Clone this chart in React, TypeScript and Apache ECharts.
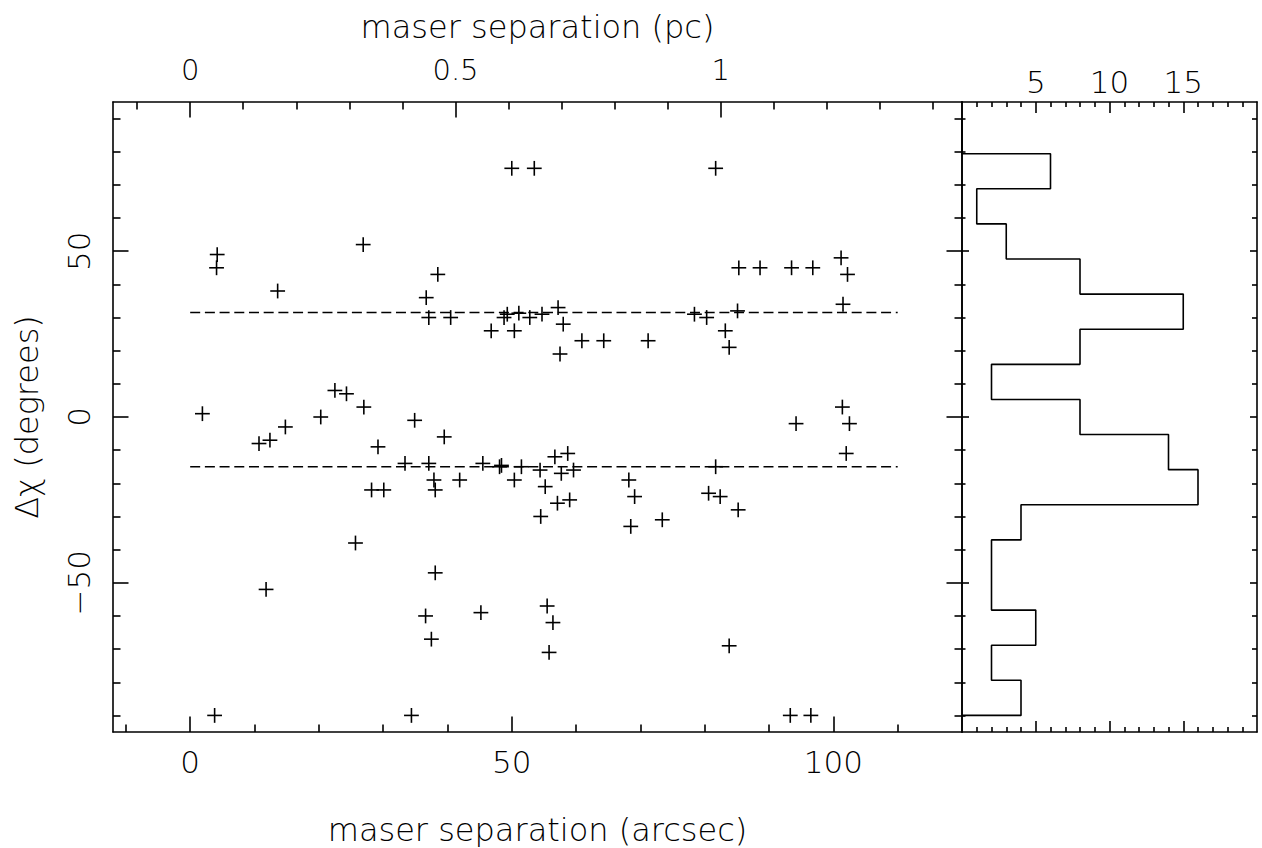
import { useEffect, useRef } from "react";
import * as echarts from "echarts";

// ---- axis ranges ----
const X_MIN = -12;
const X_MAX = 120;
const Y_MIN = -95;
const Y_MAX = 95;
const ARCSEC_PER_PC = 82.5;
const H_MIN = 0;
const H_MAX = 20;

// ---- scatter data: maser separation (arcsec) vs delta chi (degrees) ----
const sepArcsec = [
  50.0, 53.5, 81.7,
  4.2, 4.1, 26.9, 38.5, 13.6, 36.7,
  37.1, 40.5, 46.8, 48.8, 49.3, 50.4, 51.1, 52.8, 54.7,
  57.2, 58.0, 60.9, 64.3, 57.5, 71.2, 78.4, 80.3, 85.1, 83.2, 83.8,
  85.3, 88.6, 93.5, 96.8, 101.2, 102.2, 101.5,
  1.9, 14.8, 20.3, 22.5, 24.3, 27.0, 34.9, 101.4, 94.2, 102.5,
  10.7, 12.4, 39.5, 29.2, 33.4, 37.1, 45.5, 48.1, 48.4, 51.5, 56.7, 58.7, 81.7, 102.0,
  37.9, 38.1, 28.2, 30.1, 41.9, 50.4, 54.4, 57.7, 59.6, 55.2, 57.1, 59.0, 68.2, 69.1, 80.6, 82.4,
  54.5, 68.5, 73.4, 85.2,
  25.7, 38.1, 11.8, 55.5, 36.6, 37.5, 45.2, 56.4, 55.8, 83.8,
  3.8, 34.4, 93.3, 96.5,
];
const deltaChi = [
  75, 75, 75,
  49, 45, 52, 43, 38, 36,
  30, 30, 26, 30, 31, 26, 31.3, 30, 31,
  33, 28, 23, 23, 19, 23, 31, 30, 32, 26, 21,
  45, 45, 45, 45, 48, 43, 34,
  1, -3, 0, 8, 7, 3, -1, 3, -2, -2,
  -8, -7, -6, -9, -14, -14, -14, -15, -14.6, -15, -12, -11, -15, -11,
  -19, -22, -22, -22, -19, -19, -16, -17, -16, -21, -26, -25, -19, -24, -23, -24,
  -30, -33, -31, -28,
  -38, -47, -52, -57, -60, -67, -59, -62, -71, -69,
  -90, -90, -90, -90,
];

// ---- dashed reference lines ----
const refLevels = [31.5, -15];
const refXRange = [0, 110];

// ---- histogram of delta chi (counts per bin, from -90 upward, 17 bins to +90) ----
const histCounts = [4, 2, 5, 2, 2, 4, 16, 14, 8, 2, 8, 15, 8, 3, 1, 6, 0];
const histLow = -90;
const histHigh = 90;

// ---- tick values ----
const xMajor = [0, 50, 100];
const xMinor = [-10, 10, 20, 30, 40, 60, 70, 80, 90, 110];
const pcMajor = [0, 0.5, 1];
const pcMinor = [-0.1, 0.1, 0.2, 0.3, 0.4, 0.6, 0.7, 0.8, 0.9, 1.1, 1.2, 1.3, 1.4];
const yMajor = [-50, 0, 50];
const yMinor = [-90, -80, -70, -60, -40, -30, -20, -10, 10, 20, 30, 40, 60, 70, 80, 90];
const hMajor = [5, 10, 15];
const hMinor = [1, 2, 3, 4, 6, 7, 8, 9, 11, 12, 13, 14, 16, 17, 18, 19];

const FONT = "DejaVu Sans";
const INK = "#000";
const LW = 1.6;

function fmt(v: number): string {
  return v < 0 ? "\u2212" + String(Math.abs(v)) : String(v);
}

function axis(o: any): any {
  const base: any = {
    type: "value",
    scale: false,
    splitLine: { show: false },
    axisLine: { show: o.line !== false, onZero: false, lineStyle: { color: INK, width: LW } },
    axisTick: {
      show: true,
      inside: true,
      length: o.tickLen,
      customValues: o.ticks,
      lineStyle: { color: INK, width: LW },
    },
    axisLabel: o.labels
      ? {
          show: true,
          customValues: o.labels,
          formatter: (v: number) => fmt(v),
          color: INK,
          fontFamily: FONT,
          fontWeight: 200,
          fontSize: o.fontSize || 31,
          margin: o.margin,
          rotate: o.rotate || 0,
        }
      : { show: false },
  };
  const { line, tickLen, ticks, labels, fontSize, margin, rotate, ...rest } = o;
  return { ...base, ...rest };
}

export default function App() {
  const ref = useRef<HTMLDivElement>(null);

  useEffect(() => {
    if (!ref.current) return;
    const chart = echarts.init(ref.current, undefined, { renderer: "svg" });

    const binW = (histHigh - histLow) / histCounts.length;
    const histPts: number[][] = [[0, histLow]];
    histCounts.forEach((c, i) => {
      histPts.push([c, histLow + i * binW]);
      histPts.push([c, histLow + (i + 1) * binW]);
    });
    histPts.push([0, histHigh]);

    const nameStyle = { color: INK, fontFamily: FONT, fontWeight: 200, fontSize: 32 };

    const option: any = {
      animation: false,
      backgroundColor: "#fff",
      textStyle: { fontFamily: FONT },
      grid: [
        { left: 113, top: 102, width: 849, height: 630, outerBoundsMode: "none", containLabel: false },
        { left: 962, top: 102, width: 295, height: 630, outerBoundsMode: "none", containLabel: false },
      ],
      xAxis: [
        axis({
          gridIndex: 0, position: "bottom", min: X_MIN, max: X_MAX,
          ticks: xMajor, tickLen: 15.5, labels: xMajor, margin: 14,
          name: "maser separation (arcsec)", nameLocation: "middle", nameGap: 82, nameTextStyle: nameStyle,
        }),
        axis({ gridIndex: 0, position: "bottom", min: X_MIN, max: X_MAX, ticks: xMinor, tickLen: 7.5, line: false }),
        axis({
          gridIndex: 0, position: "top", min: X_MIN / ARCSEC_PER_PC, max: X_MAX / ARCSEC_PER_PC,
          ticks: pcMajor, tickLen: 15.5, labels: pcMajor, margin: 18, fontSize: 29,
          name: "maser separation (pc)", nameLocation: "middle", nameGap: 59, nameTextStyle: nameStyle,
        }),
        axis({
          gridIndex: 0, position: "top", min: X_MIN / ARCSEC_PER_PC, max: X_MAX / ARCSEC_PER_PC,
          ticks: pcMinor, tickLen: 7.5, line: false,
        }),
        axis({ gridIndex: 1, position: "top", min: H_MIN, max: H_MAX, ticks: hMajor, tickLen: 11, labels: hMajor, margin: 5 }),
        axis({ gridIndex: 1, position: "top", min: H_MIN, max: H_MAX, ticks: hMinor, tickLen: 5, line: false }),
        axis({ gridIndex: 1, position: "bottom", min: H_MIN, max: H_MAX, ticks: hMajor, tickLen: 11 }),
        axis({ gridIndex: 1, position: "bottom", min: H_MIN, max: H_MAX, ticks: hMinor, tickLen: 5, line: false }),
      ],
      yAxis: [
        axis({
          gridIndex: 0, position: "left", min: Y_MIN, max: Y_MAX,
          ticks: yMajor, tickLen: 15.5, labels: yMajor, margin: 19, rotate: 90,
          name: "\u0394\u03c7 (degrees)", nameLocation: "middle", nameGap: 70, nameRotate: 90, nameTextStyle: nameStyle,
        }),
        axis({ gridIndex: 0, position: "left", min: Y_MIN, max: Y_MAX, ticks: yMinor, tickLen: 7.5, line: false }),
        axis({ gridIndex: 0, position: "right", min: Y_MIN, max: Y_MAX, ticks: yMajor, tickLen: 15.5 }),
        axis({ gridIndex: 0, position: "right", min: Y_MIN, max: Y_MAX, ticks: yMinor, tickLen: 7.5, line: false }),
        axis({ gridIndex: 1, position: "left", min: Y_MIN, max: Y_MAX, ticks: yMajor, tickLen: 7 }),
        axis({ gridIndex: 1, position: "left", min: Y_MIN, max: Y_MAX, ticks: yMinor, tickLen: 3.5, line: false }),
        axis({ gridIndex: 1, position: "right", min: Y_MIN, max: Y_MAX, ticks: yMajor, tickLen: 7 }),
        axis({ gridIndex: 1, position: "right", min: Y_MIN, max: Y_MAX, ticks: yMinor, tickLen: 5, line: false }),
      ],
      series: [
        ...refLevels.map((lv) => ({
          type: "line",
          xAxisIndex: 0,
          yAxisIndex: 0,
          data: refXRange.map((x) => [x, lv]),
          symbol: "none",
          silent: true,
          lineStyle: { color: INK, width: 1.4, type: [10, 4.7] },
        })),
        {
          type: "custom",
          xAxisIndex: 0,
          yAxisIndex: 0,
          data: sepArcsec.map((x, i) => [x, deltaChi[i]]),
          encode: { x: 0, y: 1 },
          renderItem: (_p: any, api: any) => {
            const c = api.coord([api.value(0), api.value(1)]);
            const h = 7.4;
            const st = { stroke: INK, lineWidth: LW, fill: "none" };
            return {
              type: "group",
              children: [
                { type: "line", shape: { x1: c[0] - h, y1: c[1], x2: c[0] + h, y2: c[1] }, style: st },
                { type: "line", shape: { x1: c[0], y1: c[1] - h, x2: c[0], y2: c[1] + h }, style: st },
              ],
            };
          },
        },
        {
          type: "line",
          xAxisIndex: 4,
          yAxisIndex: 4,
          data: histPts,
          symbol: "none",
          silent: true,
          lineStyle: { color: INK, width: LW },
        },
      ],
    };

    chart.setOption(option);
    return () => chart.dispose();
  }, []);

  return (
    <div
      ref={ref}
      style={{ position: "fixed", left: 0, top: 0, width: 1262, height: 848, background: "#fff" }}
    />
  );
}
